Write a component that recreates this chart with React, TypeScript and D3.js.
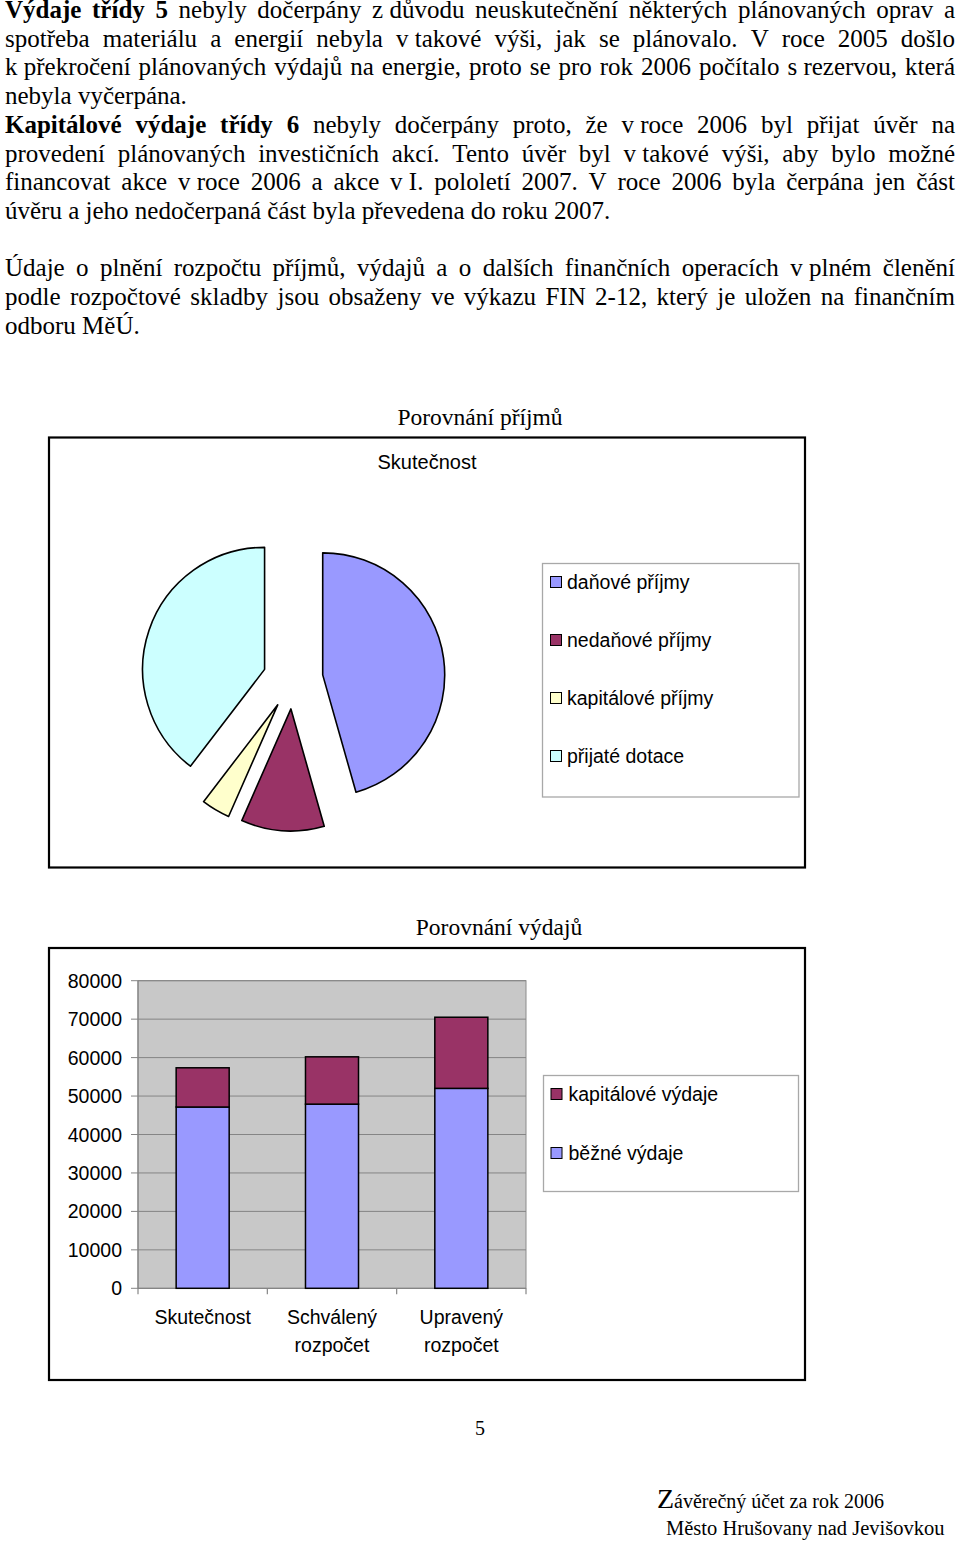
import React, { useMemo } from 'react';
import * as d3 from 'd3';

// ---------- DATA ----------
const pieCategories = ['daňové příjmy', 'nedaňové příjmy', 'kapitálové příjmy', 'přijaté dotace'];
const pieValues = [45.6, 11.0, 3.8, 39.6];
const pieColors = ['#9999FF', '#993366', '#FFFFCC', '#CCFFFF'];

const barCategories = [['Skutečnost'], ['Schválený', 'rozpočet'], ['Upravený', 'rozpočet']];
const bezneVydaje = [47150, 47900, 52000];
const kapitaloveVydaje = [10200, 12300, 18500];
const barLegend = ['kapitálové výdaje', 'běžné výdaje'];
const barColors = ['#993366', '#9999FF'];
const yTicks = [0, 10000, 20000, 30000, 40000, 50000, 60000, 70000, 80000];

type Seg = { t: string; b?: boolean };
const NB = '\u00A0';
const textLines: { segs: Seg[]; justify: boolean; row: number }[] = [
  { segs: [{ t: 'Výdaje třídy 5', b: true }, { t: ` nebyly dočerpány z${NB}důvodu neuskutečnění některých plánovaných oprav a` }], justify: true, row: 0 },
  { segs: [{ t: `spotřeba materiálu a energií nebyla v${NB}takové výši, jak se plánovalo. V roce 2005 došlo` }], justify: true, row: 1 },
  { segs: [{ t: `k${NB}překročení plánovaných výdajů na energie, proto se pro rok 2006 počítalo s${NB}rezervou, která` }], justify: true, row: 2 },
  { segs: [{ t: 'nebyla vyčerpána.' }], justify: false, row: 3 },
  { segs: [{ t: 'Kapitálové výdaje třídy 6', b: true }, { t: ` nebyly dočerpány proto, že v${NB}roce 2006 byl přijat úvěr na` }], justify: true, row: 4 },
  { segs: [{ t: `provedení plánovaných investičních akcí. Tento úvěr byl v${NB}takové výši, aby bylo možné` }], justify: true, row: 5 },
  { segs: [{ t: `financovat akce v${NB}roce 2006 a akce v${NB}I. pololetí 2007. V roce 2006 byla čerpána jen část` }], justify: true, row: 6 },
  { segs: [{ t: 'úvěru a jeho nedočerpaná část byla převedena do roku 2007.' }], justify: false, row: 7 },
  { segs: [{ t: `Údaje o plnění rozpočtu příjmů, výdajů a o dalších finančních operacích v${NB}plném členění` }], justify: true, row: 9 },
  { segs: [{ t: 'podle rozpočtové skladby jsou obsaženy ve výkazu FIN 2-12, který je uložen na finančním' }], justify: true, row: 10 },
  { segs: [{ t: 'odboru MěÚ.' }], justify: false, row: 11 },
];

const SERIF = '"Liberation Serif", "Times New Roman", serif';
const SANS = '"Liberation Sans", Arial, sans-serif';
const BODY_SIZE = 25;

let ctx: CanvasRenderingContext2D | null = null;
function measure(text: string, bold: boolean): number {
  if (!ctx) ctx = document.createElement('canvas').getContext('2d');
  if (!ctx) return text.length * BODY_SIZE * 0.45;
  ctx.font = `${bold ? 'bold ' : ''}${BODY_SIZE}px "Liberation Serif"`;
  return ctx.measureText(text).width;
}

function Paragraphs() {
  const left = 5, right = 955;
  const laid = useMemo(() => textLines.map((ln) => {
    const words: { t: string; b: boolean }[] = [];
    ln.segs.forEach((s) => {
      s.t.split(' ').forEach((w) => { if (w.length) words.push({ t: w, b: !!s.b }); });
    });
    const widths = words.map((w) => measure(w.t, w.b));
    const total = widths.reduce((a, c) => a + c, 0);
    const gap = ln.justify && words.length > 1 ? (right - left - total) / (words.length - 1) : measure(' ', false);
    let x = left;
    const pos = words.map((w, i) => { const p = { ...w, x }; x += widths[i] + gap; return p; });
    return { pos, y: 18 + ln.row * 28.7 };
  }), []);
  return (
    <g fontFamily={SERIF} fontSize={BODY_SIZE} fill="#000">
      {laid.map((l, i) => (
        <text key={i} y={l.y}>
          {l.pos.map((w, j) => (
            <tspan key={j} x={w.x} fontWeight={w.b ? 'bold' : 'normal'}>{w.t}</tspan>
          ))}
        </text>
      ))}
    </g>
  );
}

function PieSection() {
  const cx = 293, cy = 679, r = 122, explode = 30;
  const arcs = d3.pie<number>().sort(null).value((d) => d)(pieValues);
  const arcGen = d3.arc<d3.PieArcDatum<number>>().innerRadius(0).outerRadius(r);
  return (
    <g>
      <text x={480} y={425} textAnchor="middle" fontFamily={SERIF} fontSize={23.5}>Porovnání příjmů</text>
      <rect x={49} y={437.5} width={756} height={430} fill="#fff" stroke="#000" strokeWidth={2.2} />
      <text x={427} y={469} textAnchor="middle" fontFamily={SANS} fontSize={20}>Skutečnost</text>
      {arcs.map((a, i) => {
        const mid = (a.startAngle + a.endAngle) / 2;
        const dx = explode * Math.sin(mid), dy = -explode * Math.cos(mid);
        return (
          <path key={i} d={arcGen(a) || ''} transform={`translate(${cx + dx},${cy + dy})`}
            fill={pieColors[i]} stroke="#000" strokeWidth={1.6} strokeLinejoin="round" />
        );
      })}
      <rect x={542.5} y={563.5} width={256.5} height={233.5} fill="#fff" stroke="#a8a8a8" strokeWidth={1.3} />
      {pieCategories.map((c, i) => {
        const yc = 582 + 58 * i;
        return (
          <g key={c}>
            <rect x={550.5} y={yc - 5.5} width={11} height={11} fill={pieColors[i]} stroke="#000" strokeWidth={1} />
            <text x={567} y={yc + 6.5} fontFamily={SANS} fontSize={19.5}>{c}</text>
          </g>
        );
      })}
    </g>
  );
}

function BarSection() {
  const x = d3.scaleBand<number>().domain([0, 1, 2]).range([138, 526]).padding(0);
  const y = d3.scaleLinear().domain([0, 80000]).range([1288.3, 980.7]);
  const rows = bezneVydaje.map((b, i) => ({ bezne: b, kapital: kapitaloveVydaje[i] }));
  const stack = d3.stack<{ bezne: number; kapital: number }>().keys(['bezne', 'kapital'])(rows);
  const stackColors = ['#9999FF', '#993366'];
  const bw = x.bandwidth() * 0.41;
  const [x0, x1] = x.range();
  return (
    <g>
      <text x={499} y={935} textAnchor="middle" fontFamily={SERIF} fontSize={23.5}>Porovnání výdajů</text>
      <rect x={49} y={948} width={756} height={432} fill="#fff" stroke="#000" strokeWidth={2.2} />
      <rect x={x0} y={y(80000)} width={x1 - x0} height={y(0) - y(80000)} fill="#C8C8C8" stroke="#8c8c8c" strokeWidth={1} />
      {yTicks.map((t) => (
        <g key={t}>
          {t > 0 && <line x1={x0} x2={x1} y1={y(t)} y2={y(t)} stroke="#858585" strokeWidth={1} />}
          <line x1={x0 - 7} x2={x0} y1={y(t)} y2={y(t)} stroke="#858585" strokeWidth={1} />
          <text x={122} y={y(t) + 7} textAnchor="end" fontFamily={SANS} fontSize={19.5}>{t}</text>
        </g>
      ))}
      <line x1={x0} x2={x0} y1={y(80000)} y2={y(0)} stroke="#858585" strokeWidth={1.2} />
      <line x1={x0} x2={x1} y1={y(0)} y2={y(0)} stroke="#858585" strokeWidth={1.2} />
      {[0, 1, 2, 3].map((k) => {
        const xx = x0 + k * x.step();
        return <line key={k} x1={xx} x2={xx} y1={y(0)} y2={y(0) + 6} stroke="#858585" strokeWidth={1.2} />;
      })}
      {stack.map((s, si) => (
        <g key={si}>
          {s.map((d, i) => (
            <rect key={i} x={(x(i) || 0) + (x.bandwidth() - bw) / 2} y={y(d[1])} width={bw}
              height={y(d[0]) - y(d[1])} fill={stackColors[si]} stroke="#000" strokeWidth={1.5} />
          ))}
        </g>
      ))}
      {barCategories.map((lines, i) => (
        <text key={i} textAnchor="middle" fontFamily={SANS} fontSize={19.5}>
          {lines.map((l, j) => (
            <tspan key={j} x={(x(i) || 0) + x.bandwidth() / 2} y={1324 + 28 * j}>{l}</tspan>
          ))}
        </text>
      ))}
      <rect x={543.5} y={1075.5} width={255} height={116} fill="#fff" stroke="#a8a8a8" strokeWidth={1.3} />
      {barLegend.map((c, i) => {
        const yc = 1094 + 59 * i;
        return (
          <g key={c}>
            <rect x={551} y={yc - 5.5} width={11} height={11} fill={barColors[i]} stroke="#000" strokeWidth={1} />
            <text x={568.5} y={yc + 6.5} fontFamily={SANS} fontSize={19.5}>{c}</text>
          </g>
        );
      })}
    </g>
  );
}

export default function App() {
  return (
    <svg width={960} height={1541} viewBox="0 0 960 1541"
      style={{ position: 'absolute', left: 0, top: 0, display: 'block', background: '#fff' }}>
      <rect x={0} y={0} width={960} height={1541} fill="#fff" />
      <Paragraphs />
      <PieSection />
      <BarSection />
      <text x={480} y={1435} textAnchor="middle" fontFamily={SERIF} fontSize={20}>5</text>
      <text x={657} y={1508} fontFamily={SERIF}>
        <tspan fontSize={28}>Z</tspan>
        <tspan fontSize={20}>ávěrečný účet za rok 2006</tspan>
      </text>
      <text x={666} y={1535} fontFamily={SERIF} fontSize={20.5}>Město Hrušovany nad Jevišovkou</text>
    </svg>
  );
}
